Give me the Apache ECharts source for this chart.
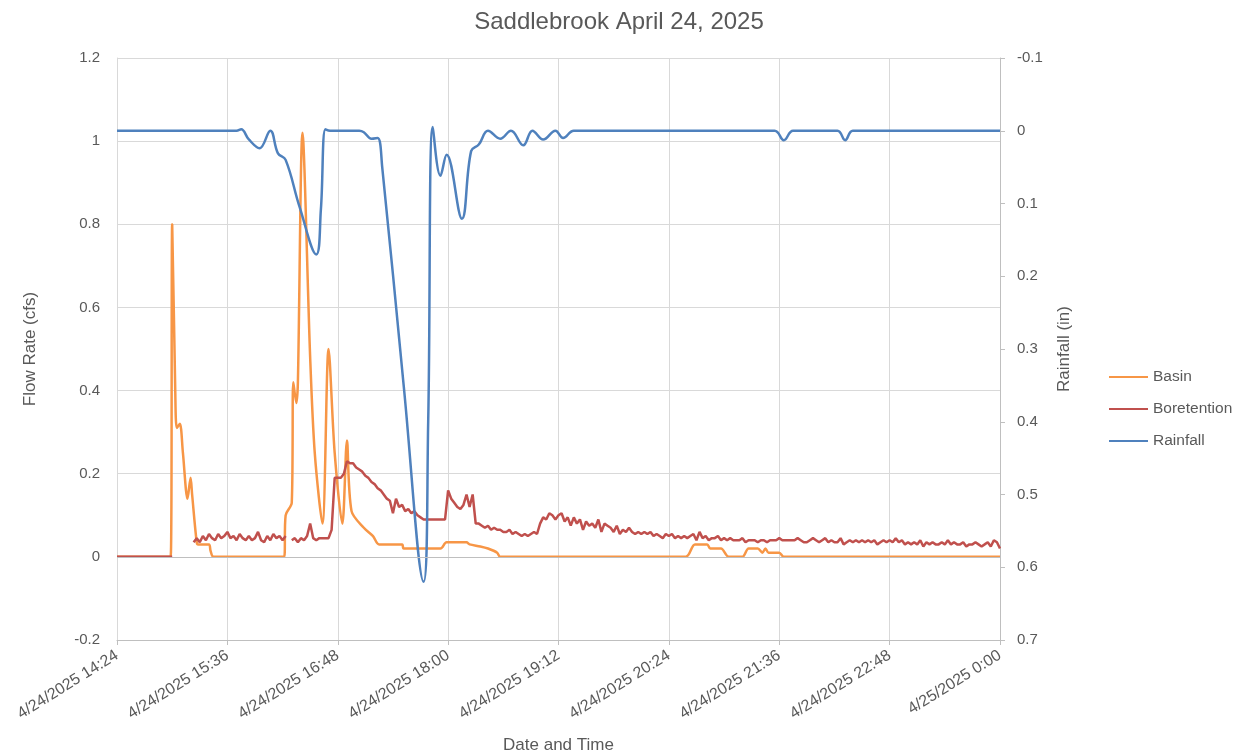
<!DOCTYPE html>
<html>
  <head>
    <meta charset="utf-8">
    <script src="https://cdn.jsdelivr.net/npm/echarts@6/dist/echarts.min.js"></script>
  </head>
  <body style="margin:0">
    <div id="main" style="width: 1238px;height:756px;"></div>
    <script type="text/javascript">
      // tick labels of the time axis (every 72 min from 14:24)
      var timeTicks = ['4/24/2025 14:24', '4/24/2025 15:36', '4/24/2025 16:48', '4/24/2025 18:00',
                       '4/24/2025 19:12', '4/24/2025 20:24', '4/24/2025 21:36', '4/24/2025 22:48', '4/25/2025 0:00'];

      // Basin flow (cfs)
      var basinTimes = ['14:24','14:59','15:00','15:02','15:03','15:05','15:07','15:10','15:12','15:13','15:16','15:17',
                        '15:24','15:25','15:27','16:13','16:14','16:18','16:19','16:21','16:22','16:25','16:30','16:33',
                        '16:38','16:42','16:46','16:51','16:54','16:57','17:05','17:11','17:15','17:30','17:31','17:55',
                        '17:59','18:12','18:14','18:21','18:26','18:32','18:34','20:35','20:41','20:49','20:51','20:58',
                        '21:03','21:12','21:16','21:22','21:25','21:27','21:29','21:36','21:39','24:00'];
      var basinFlow  = [0, 0, 0.80, 0.40, 0.31, 0.32, 0.25, 0.14, 0.19, 0.15, 0.035, 0.03,
                        0.03, 0.015, 0, 0, 0.10, 0.13, 0.42, 0.37, 0.42, 1.02, 0.48, 0.25,
                        0.08, 0.50, 0.25, 0.08, 0.28, 0.11, 0.07, 0.05, 0.03, 0.03, 0.02, 0.02,
                        0.035, 0.035, 0.03, 0.025, 0.02, 0.01, 0, 0, 0.03, 0.03, 0.02, 0.02,
                        0, 0, 0.02, 0.02, 0.01, 0.02, 0.01, 0.01, 0, 0];

      // Boretention flow (cfs): flat start, a gap, then readings every 2 minutes from 15:14
      var bioHeadTimes = ['14:24', '15:00'];
      var bioHeadFlow = [0, 0];
      var bioStart = '15:14';
      var bioStep = 2;
      var bioFlow = [
        0.035,0.045,0.035,0.05,0.04,0.055,0.045,0.04,0.055,0.045,0.05,0.06,0.045,0.05,0.04,0.055,0.045,0.04,0.05,0.04,
        0.045,0.06,0.04,0.035,0.05,0.04,0.055,0.045,0.05,0.04,0.05,null,0.04,0.045,0.035,0.045,0.04,0.05,0.08,0.045,
        0.04,0.045,0.045,0.045,0.045,0.065,0.19,0.19,0.19,0.2,0.23,0.225,0.225,0.215,0.21,0.205,0.195,0.19,0.18,0.175,
        0.165,0.16,0.15,0.14,0.135,0.105,0.14,0.12,0.125,0.11,0.115,0.105,0.11,0.1,0.095,0.09,0.09,0.09,0.09,0.09,
        0.09,0.09,0.09,0.16,0.14,0.13,0.12,0.115,0.125,0.15,0.12,0.15,0.08,0.08,0.075,0.07,0.075,0.065,0.07,0.065,
        0.065,0.06,0.06,0.065,0.055,0.06,0.055,0.05,0.055,0.05,0.055,0.06,0.055,0.08,0.095,0.09,0.105,0.1,0.09,0.1,
        0.105,0.085,0.095,0.075,0.095,0.08,0.09,0.065,0.085,0.075,0.08,0.07,0.09,0.06,0.08,0.075,0.07,0.06,0.075,0.055,
        0.065,0.06,0.07,0.06,0.055,0.06,0.055,0.06,0.055,0.06,0.05,0.055,0.05,0.045,0.055,0.05,0.055,0.045,0.05,0.045,
        0.05,0.045,0.05,0.055,0.04,0.06,0.045,0.05,0.04,0.045,0.045,0.05,0.04,0.045,0.04,0.045,0.04,0.04,0.04,0.045,
        0.035,0.04,0.04,0.04,0.035,0.04,0.04,0.035,0.04,0.04,0.04,0.045,0.04,0.04,0.04,0.04,0.04,0.045,0.04,0.035,
        0.035,0.04,0.045,0.04,0.035,0.04,0.045,0.035,0.04,0.035,0.035,0.045,0.03,0.035,0.04,0.035,0.04,0.035,0.04,0.035,
        0.04,0.035,0.04,0.03,0.035,0.04,0.035,0.04,0.035,0.045,0.035,0.04,0.03,0.035,0.03,0.035,0.03,0.04,0.025,0.035,
        0.03,0.035,0.03,0.03,0.035,0.03,0.04,0.03,0.035,0.03,0.03,0.035,0.025,0.03,0.03,0.035,0.03,0.025,0.03,0.035,
        0.025,0.04,0.035,0.02
      ];

      // Rainfall (in), right axis, inverted
      var rainTimes = ['14:24','15:42','15:45','15:50','15:57','16:04','16:09','16:14','16:23','16:34','16:37','16:40',
                       '16:43','17:02','17:05','17:10','17:14','17:17','17:31','17:44','17:47','17:50','17:55','17:59',
                       '18:09','18:15','18:20','18:26','18:34','18:41','18:49','18:55','19:02','19:10','19:15','19:22',
                       '21:33','21:39','21:45','22:14','22:19','22:24','24:00'];
      var rainfall  = [0, 0, -0.002, 0.012, 0.024, 0, 0.031, 0.04, 0.104, 0.17, 0.108, -0.002,
                       0, 0, 0.002, 0.011, 0.01, 0.05, 0.35, 0.62, 0.4, -0.005, 0.062, 0.033,
                       0.121, 0.028, 0.019, 0, 0.011, 0, 0.02, 0, 0.012, 0, 0.01, 0,
                       0, 0.013, 0, 0, 0.013, 0, 0];

      // minutes after 14:24
      function toMin(t) {
        var p = t.split(':');
        return (+p[0]) * 60 + (+p[1]) - 864;
      }
      function pairs(times, vals) {
        return times.map(function (t, i) { return [toMin(t), vals[i]]; });
      }

      var basinData = pairs(basinTimes, basinFlow);
      var rainData = pairs(rainTimes, rainfall);
      var bioData = pairs(bioHeadTimes, bioHeadFlow);
      bioData.push([toMin('15:07'), null]);
      var s0 = toMin(bioStart);
      bioFlow.forEach(function (v, i) { bioData.push([s0 + i * bioStep, v]); });

      var textColor = '#595959';
      var fontFam = '"Liberation Sans", Arial, sans-serif';

      var myChart = echarts.init(document.getElementById('main'));
      var option = {
        backgroundColor: '#fff',
        animation: false,
        textStyle: { fontFamily: fontFam },
        title: {
          text: 'Saddlebrook April 24, 2025',
          left: 'center',
          top: 5,
          textStyle: { color: textColor, fontSize: 24, fontWeight: 'normal', fontFamily: fontFam }
        },
        legend: {
          orient: 'vertical',
          left: 1104,
          top: 364,
          itemWidth: 39,
          itemHeight: 14,
          itemGap: 16,
          icon: 'path://M0,6 L39,6 L39,8 L0,8 Z',
          textStyle: { color: textColor, fontSize: 15.5, fontFamily: fontFam },
          data: ['Basin', 'Boretention', 'Rainfall']
        },
        grid: { left: 117, right: 238, top: 58, bottom: 116, outerBoundsMode: 'none' },
        xAxis: {
          type: 'value',
          min: 0,
          max: 576,
          interval: 72,
          name: 'Date and Time',
          nameLocation: 'middle',
          nameGap: 97,
          nameTextStyle: { color: textColor, fontSize: 17 },
          axisLine: { onZero: false, lineStyle: { color: '#bfbfbf' } },
          axisTick: { show: true, length: 5, lineStyle: { color: '#bfbfbf' } },
          axisLabel: {
            color: textColor,
            fontSize: 16,
            rotate: 32,
            margin: 14,
            formatter: function (v) { return timeTicks[Math.round(v / 72)]; }
          },
          splitLine: { show: true, lineStyle: { color: '#d9d9d9' } }
        },
        yAxis: [{
          type: 'value',
          min: -0.2,
          max: 1.2,
          interval: 0.2,
          name: 'Flow Rate (cfs)',
          nameLocation: 'middle',
          nameGap: 78,
          nameTextStyle: { color: textColor, fontSize: 17 },
          axisLine: { show: true, lineStyle: { color: '#d9d9d9' } },
          axisTick: { show: false },
          axisLabel: {
            color: textColor, fontSize: 15, margin: 17,
            formatter: function (v) { return String(Math.round(v * 10) / 10); }
          },
          splitLine: { show: true, lineStyle: { color: '#d9d9d9' } }
        }, {
          type: 'value',
          inverse: true,
          min: -0.1,
          max: 0.7,
          interval: 0.1,
          name: 'Rainfall (in)',
          nameLocation: 'middle',
          nameGap: 56,
          nameRotate: 90,
          nameTextStyle: { color: textColor, fontSize: 17 },
          axisLine: { show: true, lineStyle: { color: '#bfbfbf' } },
          axisTick: { show: true, length: 5, lineStyle: { color: '#bfbfbf' } },
          axisLabel: {
            color: textColor, fontSize: 15, margin: 17,
            formatter: function (v) { return String(Math.round(v * 10) / 10); }
          },
          splitLine: { show: false }
        }],
        series: [{
          name: 'Basin',
          type: 'line',
          data: basinData,
          smooth: 0.3,
          showSymbol: false,
          lineStyle: { width: 2.5, color: '#F79646' },
          itemStyle: { color: '#F79646' },
          markLine: {
            silent: true,
            symbol: 'none',
            label: { show: false },
            lineStyle: { color: '#bfbfbf', width: 1, type: 'solid' },
            data: [{ yAxis: 0 }]
          },
          z: 2
        }, {
          name: 'Boretention',
          type: 'line',
          data: bioData,
          showSymbol: false,
          connectNulls: false,
          lineStyle: { width: 2.5, color: '#C0504D' },
          itemStyle: { color: '#C0504D' },
          z: 3
        }, {
          name: 'Rainfall',
          type: 'line',
          yAxisIndex: 1,
          data: rainData,
          smooth: 0.4,
          showSymbol: false,
          lineStyle: { width: 2.5, color: '#4F81BD' },
          itemStyle: { color: '#4F81BD' },
          z: 4
        }]
      };
      myChart.setOption(option);
    </script>
  </body>
</html>
